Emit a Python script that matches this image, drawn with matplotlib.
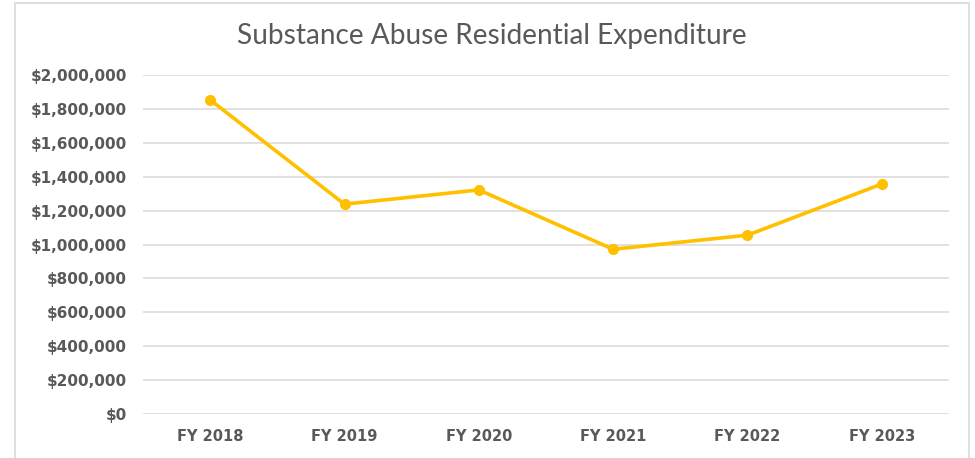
import matplotlib
matplotlib.use("Agg")
import matplotlib.pyplot as plt
from matplotlib.patches import Rectangle
from matplotlib.ticker import FuncFormatter, MultipleLocator

# data
years = ["FY 2018", "FY 2019", "FY 2020", "FY 2021", "FY 2022", "FY 2023"]
expenditure = [1853000, 1238000, 1322000, 972000, 1055000, 1357000]

title = "Substance Abuse Residential Expenditure"
text_color = "#595959"
line_color = "#FFC000"
grid_color = "#D9D9D9"

fig = plt.figure(figsize=(9.75, 4.58), dpi=100)
ax = fig.add_axes([143 / 975, 1 - 414 / 458, (949 - 143) / 975, (414 - 75) / 458])

x = list(range(len(years)))
ax.plot(x, expenditure, color=line_color, linewidth=2.6, marker="o",
        markersize=7, solid_capstyle="round", zorder=3)

ax.set_xlim(-0.5, len(years) - 0.5)
ax.set_ylim(0, 2000000)
ax.yaxis.set_major_locator(MultipleLocator(200000))
ax.yaxis.set_major_formatter(FuncFormatter(lambda v, p: "${:,.0f}".format(v)))
ax.set_xticks(x)
ax.set_xticklabels(years)

ax.grid(axis="y", color=grid_color, linewidth=1.1)
ax.set_axisbelow(True)
for s in ax.spines.values():
    s.set_visible(False)
ax.tick_params(length=0, labelsize=10.5, labelcolor=text_color)
ax.tick_params(axis="y", pad=11.5, labelsize=11)
ax.tick_params(axis="x", pad=11)
for lab in ax.get_xticklabels() + ax.get_yticklabels():
    lab.set_fontweight("bold")
    lab.set_family("DejaVu Sans")

fig.text(492 / 975, 1 - 36 / 458, title, ha="center", va="center",
         fontsize=20.2, color=text_color, family="Lato", fontweight="normal")

# chart frame
fig.patches.append(Rectangle((15 / 975, -0.1), (969 - 15) / 975, 1.1 - 3 / 458,
                             transform=fig.transFigure, fill=False,
                             edgecolor=grid_color, linewidth=1.2))

fig.savefig("out.png", dpi=100, facecolor="white")
